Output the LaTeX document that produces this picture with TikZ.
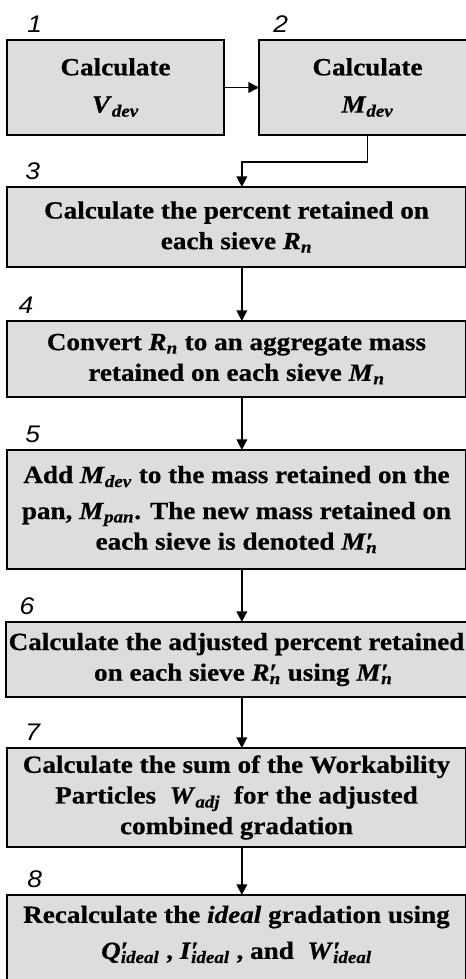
\documentclass[tikz,border=0pt]{standalone}
\usepackage{fontspec}
\setmainfont{Liberation Serif}[FakeStretch=1.1,
  BoldFeatures={FakeBold=0.6}, BoldItalicFeatures={FakeBold=0.6}]
\newfontfamily\numfont{Liberation Sans}[FakeStretch=1.1]
\usetikzlibrary{positioning,arrows.meta}
\definecolor{boxgray}{HTML}{DDDDDD}
\newcommand\vq[2]{\textit{#1}\textsubscript{\textit{#2}}}
\newcommand\vqp[2]{\textit{#1}\rlap{′}\textsubscript{\textit{#2}}}

\begin{document}
\begin{tikzpicture}[x=0.75pt, y=-0.75pt,
  stepbox/.style={draw, fill=boxgray, line width=1.4pt, align=center, inner sep=2pt, outer sep=0pt,
    font=\fontsize{18.5}{23}\selectfont\bfseries},
  widebox/.style={stepbox, minimum width=344.25pt},
  stepnum/.style={anchor=base west, inner sep=0pt, font=\fontsize{18}{20}\selectfont\numfont\itshape},
  flow/.style={line width=1.2pt, -{Triangle[length=8pt,width=8pt]}}]
\useasboundingbox (0,0) rectangle (465,979);

\node[stepbox, minimum width=162.75pt, minimum height=71.25pt, anchor=north west] (calcv) at (7,40)
  {Calculate\\[5pt]\vq{V}{dev}};
\node[stepbox, minimum width=162.75pt, minimum height=71.25pt, right=26.25pt of calcv] (calcm)
  {Calculate\\[5pt]\vq{M}{dev}};
\node[widebox, minimum height=60pt, below=39pt of calcv.south west, anchor=north west] (pct)
  {Calculate the percent retained on\\each sieve \vq{R}{n}};
\node[widebox, minimum height=57pt, below=40.5pt of pct] (mass)
  {Convert \vq{R}{n} to an aggregate mass\\retained on each sieve \vq{M}{n}};
\node[widebox, minimum height=89.25pt, below=39.75pt of mass] (pan)
  {Add \vq{M}{dev} to the mass retained on the\\[4pt]pan, \vq{M}{pan}. The new mass retained on\\each sieve is denoted \vqp{M}{n}};
\node[widebox, minimum height=56.25pt, below=39.75pt of pan] (adj)
  {Calculate the adjusted percent retained\\\ \ on each sieve \vqp{R}{n} using \vqp{M}{n}};
\node[widebox, minimum height=74.25pt, below=38.25pt of adj] (work)
  {Calculate the sum of the Workability\\Particles \ \vq{W}{adj} \ for the adjusted\\combined gradation};
\node[widebox, minimum height=72pt, below=36pt of work] (ideal)
  {Recalculate the \textit{ideal} gradation using\\[4pt]\vqp{Q}{ideal}\ , \vqp{I}{ideal}\ , and \ \vqp{W}{ideal}\rule[-16pt]{0pt}{16pt}};

% step numbers
\node[stepnum] (n1) at ([xshift=15pt, yshift=6pt]calcv.north west) {1};
\node[stepnum] (n2) at ([xshift=10.5pt, yshift=6pt]calcm.north west) {2};
\node[stepnum] (n3) at ([xshift=13.5pt, yshift=6pt]pct.north west) {3};
\node[stepnum] (n4) at ([xshift=8.5pt, yshift=6pt]mass.north west) {4};
\node[stepnum] (n5) at ([xshift=13.5pt, yshift=6pt]pan.north west) {5};
\node[stepnum] (n6) at ([xshift=10pt, yshift=6pt]adj.north west) {6};
\node[stepnum] (n7) at ([xshift=13.5pt, yshift=6pt]work.north west) {7};
\node[stepnum] (n8) at ([xshift=15pt, yshift=6pt]ideal.north west) {8};

\draw[flow] (calcv) -- (calcm);
\draw[flow] (calcm.south) -- ++(0,-20.25pt) -| ([xshift=4pt]pct.north);
\draw[flow] ([xshift=4pt]pct.south) -- ([xshift=4pt]mass.north);
\draw[flow] ([xshift=4pt]mass.south) -- ([xshift=4pt]pan.north);
\draw[flow] ([xshift=4pt]pan.south) -- ([xshift=4pt]adj.north);
\draw[flow] ([xshift=4pt]adj.south) -- ([xshift=4pt]work.north);
\draw[flow] ([xshift=4pt]work.south) -- ([xshift=4pt]ideal.north);
\end{tikzpicture}
\end{document}
